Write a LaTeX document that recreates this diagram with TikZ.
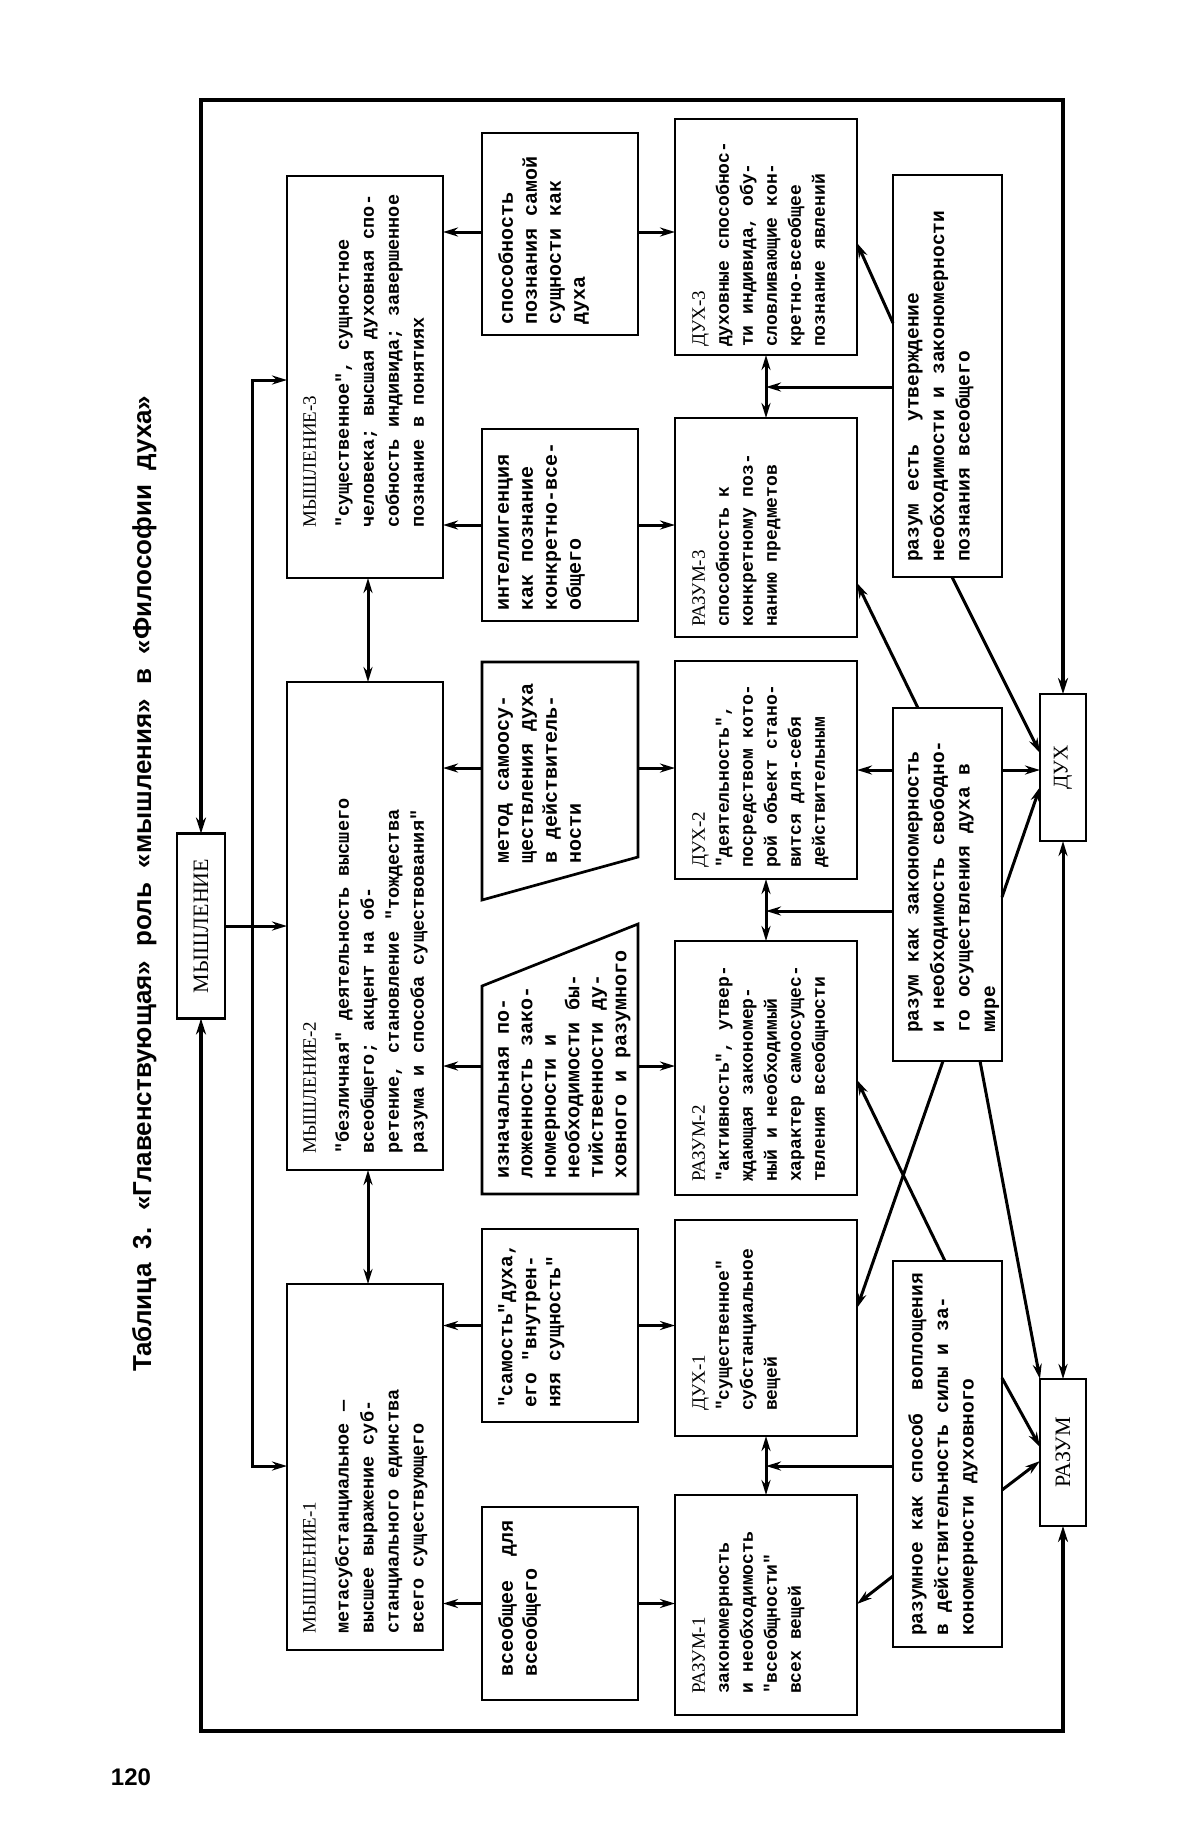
\documentclass[tikz,border=0pt]{standalone}
\usepackage{fontspec}
\setmainfont{Liberation Serif}
\newfontfamily\bodyfont{Liberation Mono}
\newfontfamily\headfont{Liberation Sans}
\usetikzlibrary{arrows.meta}
\newcommand{\hdm}{\rmfamily\mdseries\fontsize{19pt}{25pt}\selectfont}
\newcommand{\hdr}{\rmfamily\mdseries\fontsize{19pt}{24pt}\selectfont}
\newcommand{\widespaces}{\spaceskip=0.55em\relax}
\begin{document}
\begin{tikzpicture}[x=1pt,y=-1pt,
  box/.style={draw, line width=2.7pt, fill=white, inner sep=0pt, outer sep=0pt},
  boxline/.style={draw, line width=2.7pt, fill=white},
  txt/.style={rotate=90, anchor=north west, align=left, inner sep=0pt},
  mt/.style={txt, font=\bodyfont\bfseries\fontsize{18.5pt}{25pt}\selectfont},
  ct/.style={txt, font=\bodyfont\bfseries\fontsize{20pt}{24pt}\selectfont},
  rt/.style={txt, font=\bodyfont\bfseries\fontsize{18pt}{24pt}\selectfont},
  bt/.style={txt, font=\bodyfont\bfseries\fontsize{19.5pt}{25.5pt}\selectfont},
  con/.style={line width=3pt},
  arr/.style={con, -{Stealth[length=15pt,width=9pt]}},
  dbl/.style={con, {Stealth[length=15pt,width=9pt]}-{Stealth[length=15pt,width=9pt]}},
  frm/.style={line width=3.6pt, {Stealth[length=16pt,width=10pt]}-{Stealth[length=16pt,width=10pt]}}
]
\fill[white] (0,0) rectangle (1200,1840);
\useasboundingbox (0,0) rectangle (1200,1840);

% title and page number
\node[rotate=90, anchor=base west, inner sep=0pt, font=\headfont\bfseries\fontsize{26pt}{30pt}\selectfont] (title) at (151,1372) {\widespaces Таблица 3. «Главенствующая» роль «мышления» в «Философии духа»};
\node[inner sep=0pt, font=\headfont\bfseries\fontsize{24pt}{28pt}\selectfont] (pnum) at (131,1777) {120};

% MYSHLENIE column
\node[box, minimum width=48pt, minimum height=185pt] (myshl) at (201,926) {\rotatebox{90}{\rmfamily\fontsize{22pt}{26pt}\selectfont МЫШЛЕНИЕ}};
\node[box, minimum width=156pt, minimum height=402pt] (m3) at (365,377) {};
\node[box, minimum width=156pt, minimum height=488pt] (m2) at (365,926) {};
\node[box, minimum width=156pt, minimum height=366pt] (m1) at (365,1467) {};
\node[mt] (tm3) at (303,528) {{\hdm МЫШЛЕНИЕ-3}\\[8pt]
"существенное", сущностное\\
человека; высшая духовная спо-\\
собность индивида; завершенное\\
познание в понятиях};
\node[mt] (tm2) at (303,1154) {{\hdm МЫШЛЕНИЕ-2}\\[8pt]
"безличная" деятельность высшего\\
всеобщего; акцент на об-\\
ретение, становление "тождества\\
разума и способа существования"};
\node[mt] (tm1) at (303,1634) {{\hdm МЫШЛЕНИЕ-1}\\[8pt]
метасубстанциальное —\\
высшее выражение суб-\\
станциального единства\\
всего существующего};

% middle column
\node[box, minimum width=156pt, minimum height=202pt] (sp) at (560,234) {};
\node[box, minimum width=156pt, minimum height=192pt] (in) at (560,525) {};
\coordinate (met-nw) at (482,662);
\coordinate (met-ne) at (638,662);
\coordinate (met-se) at (638,857);
\coordinate (met-sw) at (482,900);
\draw[boxline] (met-nw) -- (met-ne) -- (met-se) -- (met-sw) -- cycle;
\coordinate (izn-nw) at (482,986);
\coordinate (izn-ne) at (638,924);
\coordinate (izn-se) at (638,1194);
\coordinate (izn-sw) at (482,1194);
\draw[boxline] (izn-nw) -- (izn-ne) -- (izn-se) -- (izn-sw) -- cycle;
\node[box, minimum width=156pt, minimum height=193pt] (sam) at (560,1325.5) {};
\node[box, minimum width=156pt, minimum height=193pt] (vse) at (560,1603.5) {};
\node[ct] (tsp) at (498,325) {способность\\ познания самой\\ сущности как\\ духа};
\node[ct] (tin) at (498,611) {интеллигенция\\ как познание\\ конкретно-все-\\ общего};
\node[ct] (tmet) at (498,864) {метод самоосу-\\ ществления духа\\ в действитель-\\ ности};
\node[ct, font=\bodyfont\bfseries\fontsize{20pt}{23.5pt}\selectfont] (tizn) at (498,1179) {изначальная по-\\ ложенность зако-\\ номерности и\\ необходимости бы-\\ тийственности ду-\\ ховного и разумного};
\node[ct, font=\bodyfont\bfseries\fontsize{19.5pt}{24pt}\selectfont] (tsam) at (498,1408) {"самость"духа,\\ его "внутрен-\\ няя сущность"};
\node[ct] (tvse) at (498,1677) {всеобщее\ \ для\\ всеобщего};

% right column
\node[box, minimum width=182pt, minimum height=236pt] (d3) at (766,237) {};
\node[box, minimum width=182pt, minimum height=219pt] (r3) at (766,527.5) {};
\node[box, minimum width=182pt, minimum height=218pt] (d2) at (766,770) {};
\node[box, minimum width=182pt, minimum height=254pt] (r2) at (766,1068) {};
\node[box, minimum width=182pt, minimum height=216pt] (d1) at (766,1328) {};
\node[box, minimum width=182pt, minimum height=220pt] (r1) at (766,1605) {};
\node[rt] (td3) at (692,347) {{\hdr ДУХ-3}\\ духовные способнос-\\ ти индивида, обу-\\ словливающие кон-\\ кретно-всеобщее\\ познание явлений};
\node[rt] (tr3) at (692,627) {{\hdr РАЗУМ-3}\\ способность к\\ конкретному поз-\\ нанию предметов};
\node[rt] (td2) at (692,868) {{\hdr ДУХ-2}\\ "деятельность",\\ посредством кото-\\ рой объект стано-\\ вится для-себя\\ действительным};
\node[rt] (tr2) at (692,1182) {{\hdr РАЗУМ-2}\\ "активность", утвер-\\ ждающая закономер-\\ ный и необходимый\\ характер самоосущес-\\ твления всеобщности};
\node[rt] (td1) at (692,1411) {{\hdr ДУХ-1}\\ "существенное"\\ субстанциальное\\ вещей};
\node[rt] (tr1) at (692,1694) {{\hdr РАЗУМ-1}\\ закономерность\\ и необходимость\\ "всеобщности"\\ всех вещей};

% bottom column
\node[box, minimum width=109pt, minimum height=402pt] (rest) at (947.5,376) {};
\node[box, minimum width=109pt, minimum height=353pt] (rzak) at (947.5,884.5) {};
\node[box, minimum width=109pt, minimum height=386pt] (rnoe) at (947.5,1454) {};
\node[bt] (trest) at (908,562) {разум есть\ \ утверждение\\ необходимости и закономерности\\ познания всеобщего};
\node[bt] (trzak) at (908,1033) {разум как закономерность\\ и необходимость свободно-\\ го осуществления духа в\\ мире};
\node[bt] (trnoe) at (908,1636) {разумное как способ\ \ воплощения\\ в действительность силы и за-\\ кономерности духовного};

% DUKH and RAZUM
\node[box, minimum width=46pt, minimum height=147pt] (dukh) at (1063,767.5) {\rotatebox{90}{\rmfamily\fontsize{21pt}{24pt}\selectfont ДУХ}};
\node[box, minimum width=46pt, minimum height=147pt] (razum) at (1063,1452.5) {\rotatebox{90}{\rmfamily\fontsize{22pt}{24pt}\selectfont РАЗУМ}};

% frame
\coordinate (ftop) at (0,100);
\coordinate (fbot) at (0,1731);
\draw[frm] (myshl.north) -- (myshl.north |- ftop) -- (dukh.north |- ftop) -- (dukh.north);
\draw[frm] (myshl.south) -- (myshl.south |- fbot) -- (razum.south |- fbot) -- (razum.south);

% MYSHLENIE to the three stages
\coordinate (bus) at (252,926);
\draw[arr] (myshl.east) -- (m2.west);
\draw[arr] (bus) |- (m3.west |- 0,380);
\draw[arr] (bus) |- (m1.west |- 0,1466);
\draw[dbl] (m3.south -| 368,0) -- (m2.north -| 368,0);
\draw[dbl] (m2.south -| 368,0) -- (m1.north -| 368,0);

% middle column arrows
\draw[arr] (sp.west |- 0,232) -- (m3.east |- 0,232);
\draw[arr] (sp.east |- 0,232) -- (d3.west |- 0,232);
\draw[arr] (in.west) -- (m3.east |- in.west);
\draw[arr] (in.east) -- (r3.west |- in.east);
\draw[arr] (met-nw |- 0,768) -- (m2.east |- 0,768);
\draw[arr] (met-ne |- 0,768) -- (d2.west |- 0,768);
\draw[arr] (izn-sw |- 0,1066) -- (m2.east |- 0,1066);
\draw[arr] (izn-se |- 0,1066) -- (r2.west |- 0,1066);
\draw[arr] (sam.west) -- (m1.east |- sam.west);
\draw[arr] (sam.east) -- (d1.west |- sam.east);
\draw[arr] (vse.west) -- (m1.east |- vse.west);
\draw[arr] (vse.east) -- (r1.west |- vse.east);

% pairs
\draw[dbl] (d3.south) -- (r3.north);
\draw[dbl] (d2.south) -- (r2.north);
\draw[dbl] (d1.south) -- (r1.north);
\draw[arr] (rest.west |- 0,387) -- (d3.south |- 0,387);
\draw[arr] (rzak.west |- 0,911) -- (d2.south |- 0,911);
\draw[arr] (rnoe.west |- 0,1466) -- (d1.south |- 0,1466);

% diagonals
\draw[arr] (rest.west |- 0,323) -- (d3.east |- 0,243);
\draw[arr] (rest.south -| 952,0) -- (dukh.west |- 0,753);
\draw[arr] (rzak.north -| 918,0) -- (r3.east |- 0,583);
\draw[arr] (rzak.west |- 0,770) -- (d2.east |- 0,770);
\draw[arr] (rzak.east |- 0,770) -- (dukh.west |- 0,770);
\draw[arr] (rzak.south -| 943,0) -- (d1.east |- 0,1308);
\draw[arr] (rzak.east |- 0,897) -- (dukh.west |- 0,787);
\draw[arr] (rzak.south -| 980,0) -- (razum.north west);
\draw[arr] (rnoe.north -| 945,0) -- (r2.east |- 0,1080);
\draw[arr] (rnoe.east |- 0,1378) -- (razum.west |- 0,1447);
\draw[arr] (rnoe.west |- 0,1576) -- (r1.east |- 0,1604);
\draw[arr] (rnoe.east |- 0,1490) -- (razum.west |- 0,1461);
\draw[dbl] (dukh.south) -- (razum.north);
\end{tikzpicture}
\end{document}
